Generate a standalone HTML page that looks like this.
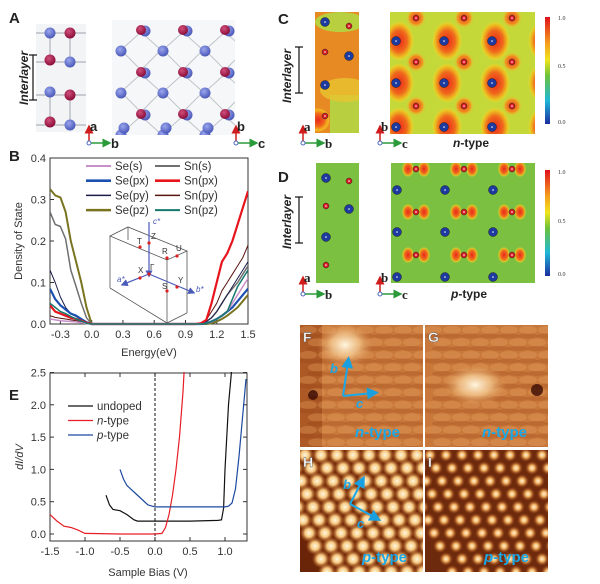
<!DOCTYPE html>
<html><head><meta charset="utf-8"><style>
html,body{margin:0;padding:0;background:#fff;}
svg{display:block;font-family:"Liberation Sans",sans-serif;}
</style></head><body>
<svg id="fig" width="600" height="584" viewBox="0 0 600 584" xmlns="http://www.w3.org/2000/svg">
<defs>
<radialGradient id="atomB" cx="40%" cy="35%" r="65%"><stop offset="0" stop-color="#9aa6ee"/><stop offset="1" stop-color="#4a58b8"/></radialGradient>
<radialGradient id="atomR" cx="40%" cy="35%" r="65%"><stop offset="0" stop-color="#d0507a"/><stop offset="1" stop-color="#8a0c38"/></radialGradient>
<radialGradient id="haloBig" r="50%"><stop offset="0" stop-color="#e8281c"/><stop offset="0.55" stop-color="#f06a1c"/><stop offset="0.85" stop-color="#f4c21c" stop-opacity="0.8"/><stop offset="1" stop-color="#f4e02c" stop-opacity="0"/></radialGradient>
<radialGradient id="haloSm" r="50%"><stop offset="0" stop-color="#ec4a1c"/><stop offset="0.6" stop-color="#f08a20"/><stop offset="1" stop-color="#f0d030" stop-opacity="0"/></radialGradient>
<linearGradient id="cbar" x1="0" y1="0" x2="0" y2="1"><stop offset="0" stop-color="#e0101c"/><stop offset="0.25" stop-color="#f6a01c"/><stop offset="0.4" stop-color="#f0e41c"/><stop offset="0.55" stop-color="#6cc23a"/><stop offset="0.78" stop-color="#20b8d8"/><stop offset="1" stop-color="#1c2ea0"/></linearGradient>
<radialGradient id="stmBlob" r="50%"><stop offset="0" stop-color="#fff6e0"/><stop offset="0.5" stop-color="#f4c890" stop-opacity="0.8"/><stop offset="1" stop-color="#e09a58" stop-opacity="0"/></radialGradient>
<radialGradient id="stmDot" r="50%"><stop offset="0" stop-color="#fff8e0"/><stop offset="0.45" stop-color="#f6c880"/><stop offset="1" stop-color="#c0621c" stop-opacity="0"/></radialGradient>
<radialGradient id="stmDot2" r="50%"><stop offset="0" stop-color="#fff4d8"/><stop offset="0.4" stop-color="#f0b060"/><stop offset="1" stop-color="#a04010" stop-opacity="0"/></radialGradient>
<marker id="arR" markerWidth="6" markerHeight="6" refX="3" refY="3" orient="auto"><path d="M0,0 L6,3 L0,6z" fill="#d01c1c"/></marker>
<marker id="arG" markerWidth="6" markerHeight="6" refX="3" refY="3" orient="auto"><path d="M0,0 L6,3 L0,6z" fill="#2a9a3a"/></marker>
<marker id="arC" markerWidth="6" markerHeight="6" refX="3" refY="3" orient="auto"><path d="M0,0 L6,3 L0,6z" fill="#1aa0e0"/></marker>
<marker id="arV" markerWidth="6" markerHeight="6" refX="3" refY="3" orient="auto"><path d="M0,0 L6,3 L0,6z" fill="#4a5ab8"/></marker>
<clipPath id="clipA"><rect x="112" y="20" width="123" height="115"/></clipPath>
<clipPath id="clipB"><rect x="50" y="150" width="198" height="176"/></clipPath>
<clipPath id="clipE"><rect x="50" y="372" width="197" height="169"/></clipPath>
<clipPath id="clipCn"><rect x="315" y="12" width="44" height="121"/></clipPath>
<clipPath id="clipCw"><rect x="390" y="12" width="145" height="122"/></clipPath>
<clipPath id="clipDn"><rect x="316" y="163" width="43" height="120"/></clipPath>
<clipPath id="clipDw"><rect x="391" y="163" width="144" height="120"/></clipPath>
<clipPath id="clipF"><rect x="300" y="325" width="123" height="122"/></clipPath>
<clipPath id="clipG"><rect x="425" y="325" width="123" height="122"/></clipPath>
<clipPath id="clipH"><rect x="300" y="450" width="123" height="122"/></clipPath>
<clipPath id="clipI"><rect x="425" y="450" width="123" height="122"/></clipPath>
</defs>

<!-- Panel letters -->
<g font-weight="bold" font-size="15" fill="#222">
<text x="9" y="23">A</text>
<text x="9" y="161">B</text>
<text x="278" y="24">C</text>
<text x="278" y="182">D</text>
<text x="9" y="400">E</text>
</g>

<!-- Panel A -->
<g>
<rect x="36" y="24" width="50" height="108" fill="#f2f4f6"/>
<g stroke="#b0b4bc" stroke-width="1.2">
<line x1="36" y1="33" x2="86" y2="33"/><line x1="50" y1="33" x2="50" y2="60"/><line x1="70" y1="33" x2="70" y2="60"/>
<line x1="36" y1="62" x2="86" y2="62"/><line x1="36" y1="95" x2="86" y2="95"/><line x1="50" y1="92" x2="50" y2="125"/><line x1="70" y1="92" x2="70" y2="125"/><line x1="36" y1="125" x2="86" y2="125"/>
</g>
<g id="aSide"></g>
<text transform="translate(28,78) rotate(-90)" text-anchor="middle" font-size="12" font-weight="bold" font-style="italic" fill="#222">Interlayer</text>
<g stroke="#111" stroke-width="1.2"><line x1="33" y1="55" x2="33" y2="100"/><line x1="29" y1="55" x2="37" y2="55"/><line x1="29" y1="100" x2="37" y2="100"/></g>
</g>
<g clip-path="url(#clipA)">
<rect x="112" y="20" width="123" height="115" fill="#f6f7f8"/>
<g id="aTop"></g>
</g>

<!-- Panel B chart -->
<g>
<rect x="50" y="158" width="198" height="166" fill="none" stroke="#333" stroke-width="1"/>
<g id="bTicks" font-size="11" fill="#333"></g>
<text transform="translate(22,241) rotate(-90)" text-anchor="middle" font-size="11" fill="#333">Density of State</text>
<text x="149" y="356" text-anchor="middle" font-size="11" fill="#333">Energy(eV)</text>
<g id="bLines" clip-path="url(#clipB)"></g>
<g id="bLegend" font-size="11.5" fill="#333"></g>
<g fill="none" stroke="#555" stroke-width="0.8">
<polygon points="110,236 128,227 187,251 167,260"/>
<line x1="110" y1="236" x2="110" y2="288"/><line x1="167" y1="260" x2="167" y2="323"/><line x1="187" y1="251" x2="187" y2="313"/>
<line x1="128" y1="227" x2="128" y2="240"/>
<polyline points="110,288 167,323 187,313"/>
<line x1="149" y1="222" x2="149" y2="274" stroke="#4a5ab8" stroke-width="1.2" marker-end="url(#arV)"/>
<line x1="149" y1="274" x2="124" y2="284" stroke="#4a5ab8" stroke-width="1.2" marker-end="url(#arV)"/>
<line x1="149" y1="274" x2="192" y2="292" stroke="#4a5ab8" stroke-width="1.2" marker-end="url(#arV)"/>
</g>
<g fill="#e02020"><circle cx="149" cy="274" r="1.6"/><circle cx="149" cy="243" r="1.6"/><circle cx="140" cy="247" r="1.6"/><circle cx="167" cy="258" r="1.6"/><circle cx="177" cy="256" r="1.6"/><circle cx="140" cy="278" r="1.6"/><circle cx="177" cy="287" r="1.6"/><circle cx="167" cy="291" r="1.6"/></g>
<g font-size="8" fill="#333"><text x="137" y="244">T</text><text x="151" y="239">Z</text><text x="162" y="254">R</text><text x="176" y="251">U</text><text x="138" y="273">X</text><text x="150" y="270">Γ</text><text x="162" y="289">S</text><text x="178" y="283">Y</text></g>
<g font-size="8" font-style="italic" fill="#4a5ab8"><text x="153" y="224">c*</text><text x="117" y="282">a*</text><text x="196" y="292">b*</text></g>
</g>

<!-- Panel E chart -->
<g>
<rect x="50" y="373" width="197" height="168" fill="none" stroke="#333" stroke-width="1"/>
<g id="eTicks" font-size="11" fill="#333"></g>
<text transform="translate(23,457) rotate(-90)" text-anchor="middle" font-size="11" font-style="italic" fill="#333">dI/dV</text>
<text x="148" y="576" text-anchor="middle" font-size="11" fill="#333">Sample Bias (V)</text>
<g id="eLines" clip-path="url(#clipE)"></g>
<g id="eLegend" font-size="11.5" fill="#333"></g>
</g>

<!-- Panel C / D -->
<g clip-path="url(#clipCn)">
<rect x="315" y="12" width="44" height="121" fill="#e88a24"/>
<rect x="330" y="95" width="30" height="40" fill="#b8d040"/>
<ellipse cx="345" cy="90" rx="25" ry="12" fill="#e8c430" opacity="0.8"/>
<ellipse cx="340" cy="22" rx="25" ry="10" fill="#b8d040"/>
<ellipse cx="318" cy="120" rx="12" ry="12" fill="url(#haloBig)"/>
<g id="cn"></g>
</g>
<g clip-path="url(#clipCw)">
<rect x="390" y="12" width="145" height="122" fill="#c4d83a"/>
<g id="cw"></g>
</g>
<g clip-path="url(#clipDn)">
<rect x="316" y="163" width="43" height="120" fill="#7cc042"/>
<g id="dn"></g>
</g>
<g clip-path="url(#clipDw)">
<rect x="391" y="163" width="144" height="120" fill="#7cc042"/>
<g id="dw"></g>
</g>
<g><rect x="545" y="17" width="5" height="107" fill="url(#cbar)"/>
<g font-family="Liberation Serif" font-size="6" fill="#333"><text x="558" y="20">1.0</text><text x="558" y="68">0.5</text><text x="558" y="124">0.0</text></g></g>
<g><rect x="545" y="170" width="5" height="106" fill="url(#cbar)"/>
<g font-family="Liberation Serif" font-size="6" fill="#333"><text x="558" y="174">1.0</text><text x="558" y="223">0.5</text><text x="558" y="276">0.0</text></g></g>
<g font-size="12" font-weight="bold" font-style="italic" fill="#222">
<text transform="translate(291,76) rotate(-90)" text-anchor="middle">Interlayer</text>
<text transform="translate(291,222) rotate(-90)" text-anchor="middle">Interlayer</text>
</g>
<g stroke="#111" stroke-width="1.2">
<line x1="299" y1="47" x2="299" y2="93"/><line x1="295" y1="47" x2="303" y2="47"/><line x1="295" y1="93" x2="303" y2="93"/>
<line x1="299" y1="197" x2="299" y2="243"/><line x1="295" y1="197" x2="303" y2="197"/><line x1="295" y1="243" x2="303" y2="243"/>
</g>
<g font-size="12" font-weight="bold" fill="#222">
<text x="453" y="147"><tspan font-style="italic">n</tspan>-type</text>
<text x="451" y="298"><tspan font-style="italic">p</tspan>-type</text>
</g>
<g id="triads"></g>

<!-- STM panels -->
<g clip-path="url(#clipF)">
<rect x="300" y="325" width="123" height="122" fill="#c8783a"/>
<rect x="300" y="325" width="22" height="122" fill="#9a4418" opacity="0.6"/>
<g id="fStripes"></g>
<ellipse cx="345" cy="345" rx="28" ry="22" fill="url(#stmBlob)"/>
<circle cx="313" cy="395" r="5" fill="#3a0a04" opacity="0.8"/>
</g>
<g clip-path="url(#clipG)">
<rect x="425" y="325" width="123" height="122" fill="#c8783a"/>
<g id="gStripes"></g>
<ellipse cx="475" cy="385" rx="32" ry="20" fill="url(#stmBlob)"/>
<circle cx="537" cy="390" r="6" fill="#3a0a04" opacity="0.8"/>
</g>
<g clip-path="url(#clipH)">
<rect x="300" y="450" width="123" height="122" fill="#6a2408"/>
<g id="hDots"></g>
</g>
<g clip-path="url(#clipI)">
<rect x="425" y="450" width="123" height="122" fill="#6e2a0c"/>
<g id="iDots"></g>
</g>
<g font-weight="bold" font-size="14" fill="#fff" stroke="#555" stroke-width="0.4">
<text x="303" y="342">F</text>
<text x="428" y="342">G</text>
<text x="303" y="467">H</text>
<text x="428" y="467">I</text>
</g>
<g font-weight="bold" font-size="15" fill="#1aa8e8">
<text x="355" y="437"><tspan font-style="italic">n</tspan>-type</text>
<text x="482" y="437"><tspan font-style="italic">n</tspan>-type</text>
<text x="362" y="562"><tspan font-style="italic">p</tspan>-type</text>
<text x="484" y="562"><tspan font-style="italic">p</tspan>-type</text>
<text x="330" y="373" font-style="italic" font-size="13">b</text><text x="356" y="408" font-style="italic" font-size="13">c</text>
<text x="343" y="489" font-style="italic" font-size="13">b</text><text x="357" y="528" font-style="italic" font-size="13">c</text>
</g>
<g stroke="#1aa8e8" stroke-width="2" fill="none">
<line x1="343" y1="396" x2="348" y2="362" marker-end="url(#arC)"/><line x1="343" y1="396" x2="373" y2="393" marker-end="url(#arC)"/>
<line x1="350" y1="504" x2="362" y2="481" marker-end="url(#arC)"/><line x1="350" y1="504" x2="376" y2="518" marker-end="url(#arC)"/>
</g>
</svg>
<script>
// ---------- DOS data (panel B) ----------
const energies = [-0.4,-0.35,-0.3,-0.25,-0.2,-0.15,-0.1,-0.05,0,0.5,1.0,1.05,1.1,1.15,1.2,1.25,1.3,1.35,1.4,1.45,1.5];
const seS  = [0.012,0.01,0.008,0.007,0.006,0.005,0.003,0.001,0,0,0,0,0.002,0.005,0.012,0.02,0.03,0.05,0.07,0.09,0.11];
const sePx = [0.085,0.06,0.045,0.035,0.025,0.02,0.012,0.004,0,0,0,0,0.002,0.006,0.012,0.02,0.03,0.04,0.055,0.07,0.085];
const sePy = [0.13,0.1,0.065,0.04,0.025,0.018,0.01,0.004,0,0,0,0.002,0.006,0.015,0.03,0.05,0.07,0.09,0.11,0.13,0.15];
const sePz = [0.325,0.31,0.305,0.27,0.2,0.15,0.1,0.04,0,0,0,0,0,0.002,0.006,0.012,0.02,0.03,0.04,0.055,0.07];
const snS  = [0.27,0.24,0.235,0.205,0.13,0.09,0.05,0.015,0,0,0,0.002,0.006,0.015,0.03,0.05,0.07,0.085,0.1,0.12,0.14];
const snPx = [0.045,0.03,0.025,0.02,0.015,0.012,0.008,0.003,0,0,0,0.002,0.01,0.05,0.1,0.15,0.17,0.2,0.24,0.28,0.32];
const snPy = [0.02,0.016,0.014,0.012,0.01,0.008,0.005,0.002,0,0,0,0.003,0.01,0.03,0.05,0.08,0.1,0.12,0.14,0.16,0.19];
const snPz = [0.05,0.04,0.03,0.025,0.018,0.012,0.007,0.002,0,0,0,0,0.002,0.006,0.012,0.02,0.03,0.06,0.09,0.11,0.13];
const dosNames = ["Se(s)","Sn(s)","Se(px)","Sn(px)","Se(py)","Sn(py)","Se(pz)","Sn(pz)"];
const bXTicks = [-0.3,0,0.3,0.6,0.9,1.2,1.5];
const bXTickLabels = ["-0.3","0.0","0.3","0.6","0.9","1.2","1.5"];
const bYTicks = [0,0.1,0.2,0.3,0.4];
const bYTickLabels = ["0.0","0.1","0.2","0.3","0.4"];

// ---------- dI/dV data (panel E) ----------
const undopedV = [-0.7,-0.65,-0.6,-0.5,-0.4,-0.3,-0.25,-0.2,0,0.5,0.9,0.95,0.98,1.0,1.05,1.1];
const undopedY = [0.6,0.45,0.38,0.36,0.3,0.22,0.2,0.2,0.2,0.2,0.21,0.22,0.4,1.0,2.0,2.6];
const nTypeV = [-1.5,-1.4,-1.3,-1.2,-1.1,-1.0,-0.5,0,0.1,0.15,0.2,0.25,0.3,0.35,0.4,0.42];
const nTypeY = [0.3,0.2,0.12,0.1,0.06,0.01,0,0,0.01,0.1,0.3,0.6,1.0,1.5,2.2,2.6];
const pTypeV = [-0.5,-0.45,-0.4,-0.35,-0.3,-0.2,-0.1,0,0.5,1.0,1.05,1.1,1.15,1.2,1.25,1.3];
const pTypeY = [1.0,0.85,0.75,0.7,0.65,0.55,0.45,0.42,0.42,0.42,0.43,0.48,0.7,1.2,1.8,2.4];
const eNames = ["undoped","n-type","p-type"];
const eXTicks = [-1.5,-1.0,-0.5,0,0.5,1.0];
const eXTickLabels = ["-1.5","-1.0","-0.5","0.0","0.5","1.0"];
const eYTicks = [0,0.5,1.0,1.5,2.0,2.5];
const eYTickLabels = ["0.0","0.5","1.0","1.5","2.0","2.5"];

const NS = "http://www.w3.org/2000/svg";
function mk(tag, attrs, parent){const e=document.createElementNS(NS,tag);for(const k in attrs)e.setAttribute(k,attrs[k]);parent.appendChild(e);return e;}

// axes B
const bx = v => 50 + (v + 0.4) / 1.9 * 198;
const by = v => 324 - v / 0.4 * 166;
const bT = document.getElementById('bTicks');
bXTicks.forEach((t,i)=>{
  const l=mk('line',{x1:bx(t),x2:bx(t),y1:324,y2:320,stroke:'#333'},bT);
  
  
  const tx=mk('text',{x:bx(t),y:338,'text-anchor':'middle'},bT); tx.textContent=bXTickLabels[i];
  
  
});
bYTicks.forEach((t,i)=>{
  mk('line',{x1:50,x2:54,y1:by(t),y2:by(t),stroke:'#333'},bT);
  const tx=mk('text',{x:46,y:by(t)+4,'text-anchor':'end'},bT); tx.textContent=bYTickLabels[i];
  
  
});
const dosSeries=[seS,snS,sePx,snPx,sePy,snPy,sePz,snPz];
const dosColors=["#c890c8","#707070","#1c50b0","#e8141c","#1c1c4a","#5a1410","#7a7420","#14786c"];
const dosWidths=[1.5,1.5,2.2,2.2,1,1,2,1.5];
const bL=document.getElementById('bLines');
[6,1,4,5,2,3,0,7].forEach(k=>{
  const d=energies.map((e,i)=>(i?'L':'M')+bx(e).toFixed(1)+','+by(dosSeries[k][i]).toFixed(1)).join(' ');
  const p=mk('path',{d:d,fill:'none',stroke:dosColors[k],'stroke-width':dosWidths[k],'stroke-linejoin':'round'},bL);
  
  
});
const bLg=document.getElementById('bLegend');
dosNames.forEach((n,i)=>{
  const col=i%2, row=Math.floor(i/2);
  const x=col?155:86, y=166+row*14.7;
  mk('line',{x1:x,x2:x+25,y1:y,y2:y,stroke:dosColors[i],'stroke-width':dosWidths[i]+0.5},bLg);
  const t=mk('text',{x:x+29,y:y+4},bLg); t.textContent=n;
  
  
});

// axes E
const ex = v => 50 + (v + 1.5) / 2.5 * 175;
const ey = v => 534 - v / 0.5 * 32.3;
const eT=document.getElementById('eTicks');
eXTicks.forEach((t,i)=>{
  mk('line',{x1:ex(t),x2:ex(t),y1:541,y2:537,stroke:'#333'},eT);
  mk('line',{x1:ex(t),x2:ex(t),y1:373,y2:377,stroke:'#333'},eT);
  const tx=mk('text',{x:ex(t),y:555,'text-anchor':'middle'},eT); tx.textContent=eXTickLabels[i];
  
  
});
eYTicks.forEach((t,i)=>{
  mk('line',{x1:50,x2:54,y1:ey(t),y2:ey(t),stroke:'#333'},eT);
  mk('line',{x1:247,x2:243,y1:ey(t),y2:ey(t),stroke:'#333'},eT);
  const tx=mk('text',{x:46,y:ey(t)+4,'text-anchor':'end'},eT); tx.textContent=eYTickLabels[i];
  
  
});
const eL=document.getElementById('eLines');
const zl=mk('line',{x1:ex(0),x2:ex(0),y1:373,y2:541,stroke:'#111','stroke-dasharray':'3,2'},eL);


const eSeries=[[undopedV,undopedY,'#111'],[nTypeV,nTypeY,'#e81c24'],[pTypeV,pTypeY,'#1c4aa0']];
eSeries.forEach((s,k)=>{
  const d=s[0].map((v,i)=>(i?'L':'M')+ex(v).toFixed(1)+','+ey(s[1][i]).toFixed(1)).join(' ');
  const p=mk('path',{d:d,fill:'none',stroke:s[2],'stroke-width':1.2},eL);
  
  
});
const eLg=document.getElementById('eLegend');
eNames.forEach((n,i)=>{
  const y=406+i*14.5;
  mk('line',{x1:68,x2:93,y1:y,y2:y,stroke:eSeries[i][2],'stroke-width':1.2},eLg);
  const t=mk('text',{x:97,y:y+4},eLg);
  if(i===0) t.textContent=n; else {const ts=mk('tspan',{'font-style':'italic'},t); ts.textContent=n[0]; t.appendChild(document.createTextNode(n.slice(1)));}
  
  
});

// atoms helper
function atom(g,x,y,r,blue,dot){
  mk('circle',{cx:x,cy:y,r:r,fill:blue?'#1c3aa0':'#d81c24',stroke:'#222','stroke-width':0.5},g);
  if(dot) mk('circle',{cx:x,cy:y,r:0.8,fill:'#fff'},g);
}
// panel A
const aS=document.getElementById('aSide');
[[50,33,1],[70,33,0],[50,60,0],[70,62,1],[50,92,1],[70,95,0],[50,122,0],[70,125,1]].forEach(a=>mk('circle',{cx:a[0],cy:a[1],r:5.5,fill:a[2]?'url(#atomB)':'url(#atomR)'},aS));
const aT=document.getElementById('aTop');
for(let r=0;r<3;r++)for(let c=0;c<3;c++){
  const x=141+c*42, y=32+r*42;
  mk('line',{x1:x,y1:y,x2:x-20,y2:y+18,stroke:'#c0c4c8'},aT);
  mk('line',{x1:x,y1:y,x2:x+20,y2:y+18,stroke:'#c0c4c8'},aT);
  mk('line',{x1:x-20,y1:y+18,x2:x,y2:y+38,stroke:'#c0c4c8'},aT);
  mk('line',{x1:x+20,y1:y+18,x2:x,y2:y+38,stroke:'#c0c4c8'},aT);
}
for(let r=0;r<3;r++)for(let c=0;c<3;c++){
  const x=141+c*42, y=31+r*42;
  mk('circle',{cx:x+4,cy:y,r:5.5,fill:'url(#atomB)'},aT);
  mk('circle',{cx:x,cy:y-1,r:5,fill:'url(#atomR)'},aT);
  mk('circle',{cx:x-20,cy:y+20,r:5.5,fill:'url(#atomB)'},aT);
}
mk('circle',{cx:124,cy:128,r:5.5,fill:'url(#atomB)'},aT);
mk('circle',{cx:166,cy:128,r:5.5,fill:'url(#atomB)'},aT);
mk('circle',{cx:208,cy:128,r:5.5,fill:'url(#atomB)'},aT);

// panel C/D
const cw=document.getElementById('cw');
[396,444,492,540].forEach(x=>[41,83,127].forEach(y=>mk('ellipse',{cx:x+3,cy:y,rx:15,ry:20,fill:'url(#haloBig)'},cw)));
[416,464,512].forEach(x=>[18,62,106].forEach(y=>mk('circle',{cx:x,cy:y,r:10,fill:'url(#haloSm)'},cw)));
[396,444,492].forEach(x=>[41,83,127].forEach(y=>atom(cw,x,y,4.5,true,true)));
[416,464,512].forEach(x=>[18,62,106].forEach(y=>atom(cw,x,y,3,false,true)));
const cn=document.getElementById('cn');
[[325,22,1],[349,26,0],[325,52,0],[349,56,1],[325,85,1],[325,116,0]].forEach(a=>atom(cn,a[0],a[1],a[2]?4.5:3,a[2],true));
const dw=document.getElementById('dw');
[416,464,512].forEach(x=>[169,212,255].forEach(y=>{
  mk('ellipse',{cx:x-8,cy:y,rx:6,ry:8,fill:'url(#haloBig)'},dw);
  mk('ellipse',{cx:x+8,cy:y,rx:6,ry:8,fill:'url(#haloBig)'},dw);
  atom(dw,x,y,3,false,true);
}));
[397,445,493].forEach(x=>[190,232,277].forEach(y=>atom(dw,x,y,4.5,true,true)));
const dn=document.getElementById('dn');
[[326,178,1],[349,181,0],[326,206,0],[349,209,1],[326,237,1],[326,265,0]].forEach(a=>atom(dn,a[0],a[1],a[2]?4.5:3,a[2],true));

// axis triads
const tr=document.getElementById('triads');
[[89,143,'a','b','Liberation Sans'],[236,143,'b','c','Liberation Sans'],[303,143,'a','b','Liberation Serif'],[380,143,'b','c','Liberation Serif'],[303,294,'a','b','Liberation Serif'],[380,294,'b','c','Liberation Serif']].forEach(t=>{
  const [x,y,u,r,f]=t;
  mk('line',{x1:x,y1:y,x2:x,y2:y-14,stroke:'#d01c1c','stroke-width':1.5,'marker-end':'url(#arR)'},tr);
  mk('line',{x1:x,y1:y,x2:x+18,y2:y,stroke:'#2a9a3a','stroke-width':1.5,'marker-end':'url(#arG)'},tr);
  mk('circle',{cx:x,cy:y,r:2,fill:'#fff',stroke:'#4a6ab8'},tr);
  const a=mk('text',{x:x+1,y:y-12,'font-size':13,'font-weight':'bold','font-family':f,fill:'#222'},tr); a.textContent=u;
  const b=mk('text',{x:x+22,y:y+5,'font-size':13,'font-weight':'bold','font-family':f,fill:'#222'},tr); b.textContent=r;
});

// STM
['fStripes','gStripes'].forEach((id,k)=>{
  const g=document.getElementById(id), x0=k?425:300;
  for(let j=0;j<10;j++)for(let i=0;i<7;i++){
    mk('ellipse',{cx:x0+8+i*19+(j%2)*9,cy:330+j*12.5,rx:9,ry:4,fill:'#eaa868',opacity:0.3},g);
    mk('ellipse',{cx:x0+8+i*19+(j%2)*9,cy:336+j*12.5,rx:10,ry:2.5,fill:'#8a3410',opacity:0.2},g);
  }
});
[['hDots',300,'url(#stmDot)',6.5],['iDots',425,'url(#stmDot2)',5]].forEach(s=>{
  const g=document.getElementById(s[0]);
  for(let j=-2;j<12;j++)for(let i=-2;i<10;i++){
    const x=s[1]+5+i*16+j*6, y=455+j*13;
    mk('circle',{cx:x,cy:y,r:s[3]*1.4,fill:s[2]},g);
  }
});
</script>
</body></html>
